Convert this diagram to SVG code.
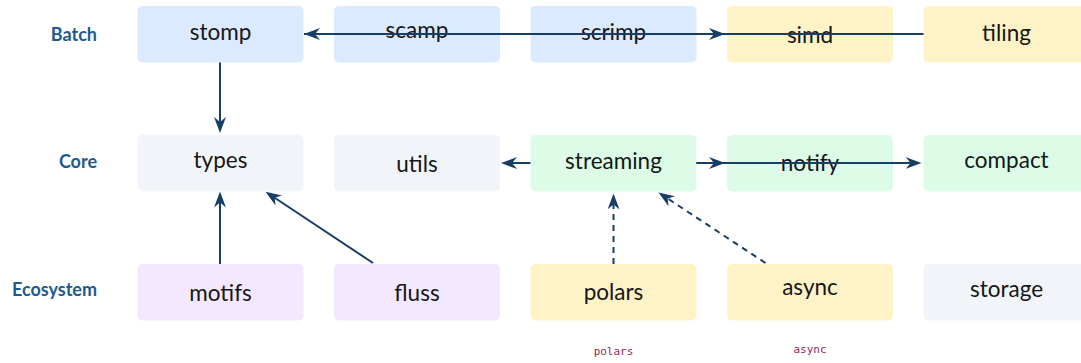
<svg xmlns="http://www.w3.org/2000/svg" width="1081" height="363" viewBox="0 0 1081 363">
<defs>
<style>
.n{font-family:Lato,"Liberation Sans",sans-serif;font-size:22.5px;fill:#161616;text-anchor:middle}
.lab{font-family:Lato,"Liberation Sans",sans-serif;font-size:18px;font-weight:bold;fill:#1e5a8f;text-anchor:end}
.mono{font-family:"DejaVu Sans Mono",monospace;font-size:11px;fill:#8c2b58;text-anchor:middle}
.blue{fill:#dbeafe}.yel{fill:#fef3c7}.grn{fill:#dcfce7}.gry{fill:#f1f5f9}.pur{fill:#f3e8ff}
.e{stroke:#173f66;stroke-width:2;fill:none;marker-end:url(#ah)}
.d{stroke-dasharray:6 5}
</style>
<marker id="ah" viewBox="0 0 16 12" refX="10" refY="6" markerWidth="16" markerHeight="12" markerUnits="userSpaceOnUse" orient="auto">
<path d="M16,6 L0,0 L5,6 L0,12 Z" fill="#173f66"/>
</marker>
</defs>
<g id="lanes">
<text class="lab" x="97" y="41">Batch</text>
<text class="lab" x="97" y="168">Core</text>
<text class="lab" x="97" y="296">Ecosystem</text>
</g>
<g id="stomp"><rect class="blue" x="137.5" y="6" width="166" height="56.5" rx="5"/><text class="n" x="220.5" y="39.5">stomp</text></g>
<g id="scamp"><rect class="blue" x="334" y="6" width="166" height="56.5" rx="5"/><text class="n" x="417" y="37.5">scamp</text></g>
<g id="scrimp"><rect class="blue" x="530.5" y="6" width="166" height="56.5" rx="5"/><text class="n" x="613.5" y="39.5">scrimp</text></g>
<g id="simd"><rect class="yel" x="727" y="6" width="166" height="56.5" rx="5"/><text class="n" x="810" y="43">simd</text></g>
<g id="tiling"><rect class="yel" x="923.5" y="6" width="166" height="56.5" rx="5"/><text class="n" x="1006.5" y="41">tiling</text></g>
<g id="types"><rect class="gry" x="137.5" y="135" width="166" height="56.5" rx="5"/><text class="n" x="220.5" y="168">types</text></g>
<g id="utils"><rect class="gry" x="334" y="135" width="166" height="56.5" rx="5"/><text class="n" x="417" y="171.5">utils</text></g>
<g id="streaming"><rect class="grn" x="530.5" y="135" width="166" height="56.5" rx="5"/><text class="n" x="613.5" y="168.5">streaming</text></g>
<g id="notify"><rect class="grn" x="727" y="135" width="166" height="56.5" rx="5"/><text class="n" x="810" y="170.5">notify</text></g>
<g id="compact"><rect class="grn" x="923.5" y="135" width="166" height="56.5" rx="5"/><text class="n" x="1006.5" y="168">compact</text></g>
<g id="motifs"><rect class="pur" x="137.5" y="264" width="166" height="56.5" rx="5"/><text class="n" x="220.5" y="301">motifs</text></g>
<g id="fluss"><rect class="pur" x="334" y="264" width="166" height="56.5" rx="5"/><text class="n" x="417" y="301">fluss</text></g>
<g id="polars"><rect class="yel" x="530.5" y="264" width="166" height="56.5" rx="5"/><text class="n" x="613.5" y="299.5">polars</text></g>
<g id="async"><rect class="yel" x="727" y="264" width="166" height="56.5" rx="5"/><text class="n" x="810" y="295">async</text></g>
<g id="storage"><rect class="gry" x="923.5" y="264" width="166" height="56.5" rx="5"/><text class="n" x="1006.5" y="296.5">storage</text></g>
<g id="notes">
<text class="mono" x="613.5" y="355">polars</text>
<text class="mono" x="810" y="352.5">async</text>
</g>
<g id="connectors">
<path class="e" d="M923.5,34 L310,34"/>
<path class="e" d="M304,34 L719,34"/>
<path class="e" d="M220,62.5 L220,127"/>
<path class="e" d="M220,264 L220,197.5"/>
<path class="e" d="M373,263 L270.5,195"/>
<path class="e" d="M530.5,163 L507,163"/>
<path class="e" d="M696.5,163 L719,163"/>
<path class="e" d="M696.5,163 L915.5,163"/>
<path class="e d" d="M613.5,264 L613.5,199.5"/>
<path class="e d" d="M765.5,263 L663.5,195.8"/>
</g>
</svg>
